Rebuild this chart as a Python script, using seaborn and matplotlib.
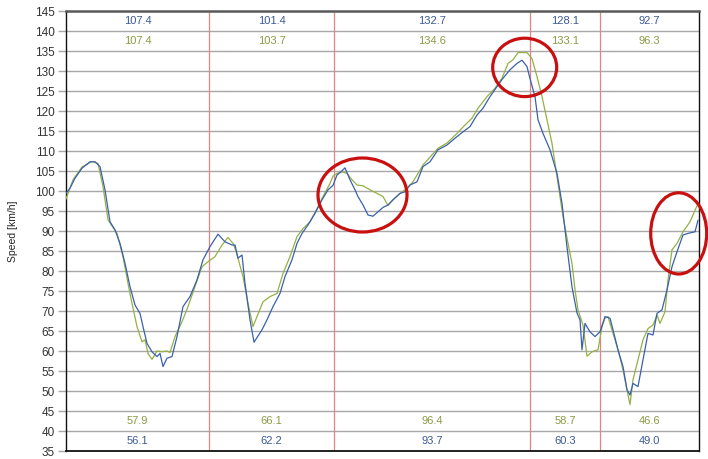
import matplotlib
matplotlib.use("Agg")
import matplotlib.pyplot as plt
from matplotlib.patches import Ellipse
import seaborn as sns
import pandas as pd

# ---- data ----
blue_dist = [0, 4, 9, 16, 24, 29, 34, 39, 44, 49,
             54, 59, 64, 69, 74, 77, 81, 86, 91, 94,
             97, 101, 106, 111, 117, 124, 131, 137, 144, 152,
             159, 166, 169, 172, 176, 179, 184, 188, 196, 201,
             207, 214, 219, 226, 231, 236, 242, 249, 256, 262,
             267, 271, 275, 279, 284, 289, 292, 297, 302, 307,
             312, 317, 322, 327, 334, 339, 344, 351, 357, 364,
             372, 381, 389, 397, 404, 411, 417, 424, 431, 437,
             444, 451, 456, 461, 464, 469, 472, 477, 484, 491,
             496, 501, 506, 511, 514, 516, 519, 524, 529, 534,
             539, 544, 547, 552, 557, 561, 564, 567, 572, 577,
             582, 587, 591, 596, 601, 606, 611, 617, 622, 629,
             632]
blue_speed = [99.4, 100.7, 103.2, 105.7, 107.3, 107.3, 106.1, 100.3, 92.3, 90.3,
              86.9, 81.9, 76.1, 71.5, 69.4, 66.1, 61.9, 59.8, 58.6, 59.4,
              56.1, 58.2, 58.6, 63.6, 71.1, 73.6, 77.8, 82.8, 86.1, 89.2,
              87.3, 86.5, 86.5, 83.2, 84.0, 76.9, 67.8, 62.2, 65.3, 67.8,
              71.1, 74.4, 78.6, 82.8, 86.9, 89.4, 91.5, 94.4, 97.8, 100.3,
              101.4, 104.0, 104.8, 105.8, 102.8, 100.3, 98.6, 96.5, 94.0, 93.7,
              94.8, 95.9, 96.5, 97.8, 99.4, 99.8, 101.5, 102.3, 106.1, 107.3,
              110.3, 111.5, 113.2, 114.8, 116.1, 119.0, 120.7, 123.6, 126.1, 128.2,
              130.3, 131.9, 132.7, 131.1, 128.1, 123.6, 117.8, 114.4, 110.3, 104.4,
              96.9, 86.0, 76.0, 69.5, 67.8, 60.3, 66.9, 64.8, 63.6, 64.8,
              68.6, 68.2, 65.3, 60.3, 56.1, 50.3, 49.0, 51.9, 51.1, 57.8,
              64.4, 64.0, 69.4, 70.3, 75.3, 81.1, 84.8, 89.0, 89.4, 89.8,
              92.7]

green_dist = [0, 7, 16, 26, 32, 37, 42, 51, 57, 62,
              66, 71, 76, 79, 82, 86, 91, 96, 101, 104,
              109, 116, 122, 129, 136, 142, 149, 156, 162, 167,
              170, 177, 182, 187, 191, 197, 204, 211, 217, 224,
              231, 237, 244, 251, 257, 264, 267, 271, 276, 281,
              286, 291, 297, 304, 311, 317, 322, 327, 334, 341,
              347, 357, 372, 381, 391, 399, 406, 412, 421, 429,
              436, 442, 447, 452, 461, 466, 471, 476, 481, 486,
              492, 497, 502, 506, 509, 512, 517, 521, 526, 532,
              536, 539, 542, 547, 552, 557, 561, 564, 567, 572,
              577, 582, 587, 591, 594, 599, 602, 606, 611, 617,
              624, 631]
green_speed = [98.0, 102.8, 106.0, 107.4, 106.9, 101.1, 92.8, 89.4, 83.6, 76.9,
               71.9, 66.1, 62.3, 62.8, 59.4, 57.9, 60.0, 59.8, 60.0, 59.6,
               63.6, 67.3, 71.1, 76.1, 81.1, 82.3, 83.6, 86.5, 88.4, 86.9,
               85.0, 78.6, 71.9, 66.1, 68.6, 72.3, 73.6, 74.4, 79.4, 83.6,
               88.6, 90.6, 92.3, 95.6, 98.6, 101.9, 103.7, 104.4, 104.8, 104.4,
               102.8, 101.5, 101.3, 100.3, 99.4, 98.6, 96.4, 97.8, 99.4, 100.7,
               102.3, 106.5, 110.7, 112.0, 114.4, 116.5, 118.2, 120.7, 123.6, 125.7,
               128.2, 131.9, 132.8, 134.6, 134.6, 133.1, 128.6, 123.6, 117.8, 111.9,
               101.9, 93.6, 86.9, 81.9, 75.3, 70.3, 66.5, 58.7, 59.8, 60.3,
               66.1, 68.2, 68.6, 64.4, 60.3, 55.3, 50.3, 46.6, 52.8, 57.8,
               62.8, 65.6, 66.5, 69.0, 66.9, 69.8, 77.8, 85.3, 86.9, 89.8,
               92.3, 96.3]

sector_bounds = [0, 143, 268, 464, 534, 633]
blue_max = ["107.4", "101.4", "132.7", "128.1", "92.7"]
green_max = ["107.4", "103.7", "134.6", "133.1", "96.3"]
green_min = ["57.9", "66.1", "96.4", "58.7", "46.6"]
blue_min = ["56.1", "62.2", "93.7", "60.3", "49.0"]
y_ticks = list(range(35, 150, 5))

BLUE = "#3a60ad"
GREEN = "#95b043"
BLUE_TXT = "#3b5a95"
GREEN_TXT = "#8c9a45"

sns.set_style("white")
plt.rcParams["font.family"] = ["Liberation Sans", "DejaVu Sans"]

fig = plt.figure(figsize=(7.08, 4.59), dpi=100)
ax = fig.add_axes([66 / 708, 1 - 451 / 459, 633 / 708, 440 / 459])

df_b = pd.DataFrame({"dist": blue_dist, "speed": blue_speed})
df_g = pd.DataFrame({"dist": green_dist, "speed": green_speed})

ax.set_xlim(sector_bounds[0], sector_bounds[-1])
ax.set_ylim(35, 145)
ax.set_yticks(y_ticks)
for y in y_ticks:
    ax.axhline(y, color="#a8a8a8", lw=1.0, zorder=1)
for xb in sector_bounds[1:-1]:
    ax.axvline(xb, color="#e08585", lw=0.9, zorder=1)

sns.lineplot(data=df_g, x="dist", y="speed", color=GREEN, lw=0.9, ax=ax, zorder=3)
sns.lineplot(data=df_b, x="dist", y="speed", color=BLUE, lw=0.9, ax=ax, zorder=3)

for i in range(5):
    cx = (sector_bounds[i] + sector_bounds[i + 1]) / 2
    ax.text(cx, 142.5, blue_max[i], color=BLUE_TXT, fontsize=8, ha="center", va="center")
    ax.text(cx, 137.5, green_max[i], color=GREEN_TXT, fontsize=8, ha="center", va="center")
    ax.text(cx, 42.5, green_min[i], color=GREEN_TXT, fontsize=8, ha="center", va="center")
    ax.text(cx, 37.5, blue_min[i], color=BLUE_TXT, fontsize=8, ha="center", va="center")

for (ex, ey, ew, eh) in [(296.5, 99.0, 89, 18.5), (458.7, 130.9, 64, 14.6), (612.7, 89.4, 56, 20.3)]:
    ax.add_patch(Ellipse((ex, ey), ew, eh, fill=False, edgecolor="#c81010", lw=2.3,
                         zorder=5, clip_on=False))

ax.set_xticks([])
ax.set_xlabel("")
ax.set_ylabel("Speed [km/h]", fontsize=7.5)
ax.yaxis.set_label_coords(-48 / 633, 0.5)
ax.tick_params(axis="y", length=6, width=1, color="#a8a8a8", labelsize=8.5,
               labelcolor="#333333", pad=2, left=True)
ax.spines["top"].set_color("#5a5a5a")
ax.spines["top"].set_linewidth(1.8)
for s in ["left", "bottom", "right"]:
    ax.spines[s].set_color("#111111")
    ax.spines[s].set_linewidth(1.0)
ax.spines["bottom"].set_linewidth(1.3)

fig.savefig("out.png", dpi=100)
